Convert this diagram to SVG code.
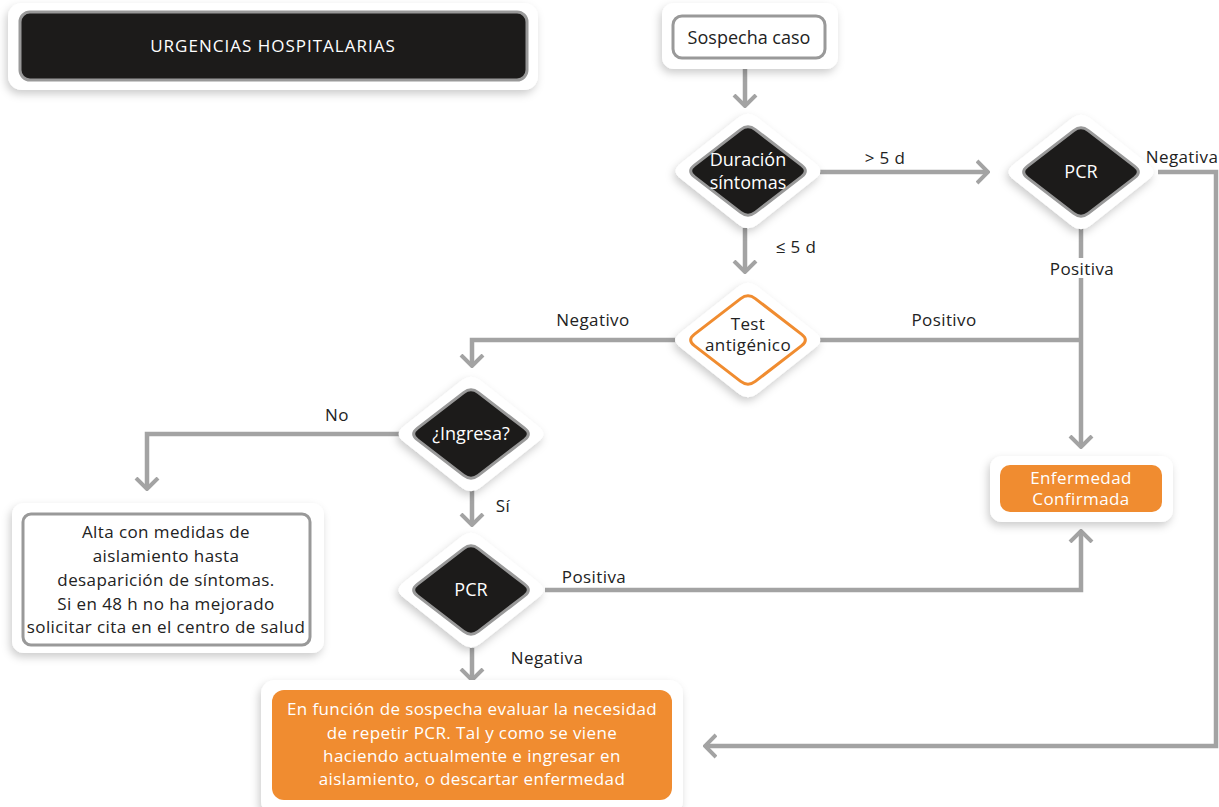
<svg xmlns="http://www.w3.org/2000/svg" width="1219" height="807" viewBox="0 0 1219 807">
<style>
text{font-family:"Open Sans","Liberation Sans",sans-serif;font-size:17px;fill:#222;text-anchor:middle}
.w{fill:#fff}
.lb{letter-spacing:0.4px}
.bt{letter-spacing:0.4px}
.halo{fill:#fff;filter:url(#sh)}
.blk{fill:#1c1b1a;stroke:#999;stroke-width:3}
.box{fill:#fff;stroke:#999;stroke-width:3}
.org{fill:#f08c30}
.con{fill:none;stroke:#a3a3a3;stroke-width:4.5}
.arr{marker-end:url(#chev)}
.lbg{fill:#fff}
</style>
<defs>
<filter id="sh" x="-20%" y="-30%" width="140%" height="160%">
<feDropShadow dx="-2" dy="4" stdDeviation="4" flood-color="#000" flood-opacity="0.2"/>
</filter>
<marker id="chev" markerUnits="userSpaceOnUse" viewBox="0 0 14 26" refX="12" refY="13" markerWidth="14" markerHeight="26" orient="auto">
<path d="M1,2 L12,13 L1,24" fill="none" stroke="#a3a3a3" stroke-width="4"/>
</marker>
<path id="dOut" d="M9.2,-53.7 L67.8,-7.3 Q77,0 67.8,7.3 L9.2,53.7 Q0,61 -9.2,53.7 L-67.8,7.3 Q-77,0 -67.8,-7.3 L-9.2,-53.7 Q0,-61 9.2,-53.7Z"/>
<path id="dIn" d="M7.3,-41.4 L53.7,-5.6 Q61,0 53.7,5.6 L7.3,41.4 Q0,47 -7.3,41.4 L-53.7,5.6 Q-61,0 -53.7,-5.6 L-7.3,-41.4 Q0,-47 7.3,-41.4Z"/>
</defs>
<rect width="1219" height="807" fill="#fff"/>

<g id="connectors">
<path class="con arr" d="M745,60 V106"/>
<path class="con arr" d="M820,172 H988"/>
<path class="con arr" d="M745,228 V272"/>
<path class="con arr" d="M1158,172 H1216 V746 H705"/>
<path class="con arr" d="M1081,228 V447"/>
<path class="con" d="M820,340 H1081"/>
<path class="con arr" d="M675,340 H472 V366"/>
<path class="con arr" d="M400,434 H147 V489"/>
<path class="con arr" d="M472,490 V525"/>
<path class="con arr" d="M545,590 H1081 V531"/>
<path class="con arr" d="M472,648 V680"/>
<text class="lb" x="885" y="164">&gt; 5 d</text>
<text class="lb" x="796" y="253">≤ 5 d</text>
<text class="lb" x="1182" y="163">Negativa</text>
<rect class="lbg" x="1045" y="258" width="74" height="20"/>
<text class="lb" x="1082" y="275">Positiva</text>
<text class="lb" x="944" y="326">Positivo</text>
<text class="lb" x="593" y="326">Negativo</text>
<text class="lb" x="337" y="421">No</text>
<text class="lb" x="503" y="512">Sí</text>
<text class="lb" x="594" y="583">Positiva</text>
<text class="lb" x="547" y="664">Negativa</text>
</g>

<g id="urgencias">
<rect class="halo" x="8" y="3" width="530" height="87" rx="14"/>
<rect class="blk" x="20" y="12" width="507" height="68" rx="10"/>
<text class="w" x="273" y="52" style="font-size:17px;letter-spacing:1px">URGENCIAS HOSPITALARIAS</text>
</g>

<g id="sospecha">
<rect class="halo" x="662" y="3" width="176" height="66" rx="12"/>
<rect class="box" x="673" y="16" width="152" height="42" rx="9"/>
<text x="749" y="44" style="font-size:18px">Sospecha caso</text>
</g>

<g id="duracion">
<use href="#dOut" class="halo" x="748" y="171"/>
<use href="#dIn" class="blk" x="748" y="171"/>
<text class="w" x="748" y="166" style="font-size:18px">Duración</text>
<text class="w" x="748" y="189" style="font-size:18px">síntomas</text>
</g>

<g id="pcr1">
<use href="#dOut" class="halo" x="1081" y="172"/>
<use href="#dIn" class="blk" x="1081" y="172"/>
<text class="w" x="1081" y="178" style="font-size:18px">PCR</text>
</g>

<g id="test">
<use href="#dOut" class="halo" x="748" y="340"/>
<use href="#dIn" x="748" y="340" fill="#fff" stroke="#f08c30" stroke-width="3"/>
<text x="748" y="330" style="font-size:17px;letter-spacing:0.4px">Test</text>
<text x="748" y="351" style="font-size:17px;letter-spacing:0.4px">antigénico</text>
</g>

<g id="ingresa">
<use href="#dOut" class="halo" x="471" y="434"/>
<use href="#dIn" class="blk" x="471" y="434"/>
<text class="w" x="471" y="440" style="font-size:18px">¿Ingresa?</text>
</g>

<g id="pcr2">
<use href="#dOut" class="halo" x="471" y="590"/>
<use href="#dIn" class="blk" x="471" y="590"/>
<text class="w" x="471" y="596" style="font-size:18px">PCR</text>
</g>

<g id="confirmada">
<rect class="halo" x="990" y="456" width="183" height="66" rx="12"/>
<rect class="org" x="1000" y="465" width="162" height="47" rx="10"/>
<text class="w bt" x="1081" y="484">Enfermedad</text>
<text class="w bt" x="1081" y="505">Confirmada</text>
</g>

<g id="alta">
<rect class="halo" x="12" y="503" width="312" height="150" rx="12"/>
<rect class="box" x="23" y="514" width="287" height="131" rx="8"/>
<text class="bt" x="166" y="538">Alta con medidas de</text>
<text class="bt" x="166" y="562">aislamiento hasta</text>
<text class="bt" x="166" y="586">desaparición de síntomas.</text>
<text class="bt" x="166" y="610">Si en 48 h no ha mejorado</text>
<text class="bt" x="166" y="633">solicitar cita en el centro de salud</text>
</g>

<g id="evaluar">
<rect class="halo" x="261" y="680" width="422" height="135" rx="14"/>
<rect class="org" x="272" y="690" width="400" height="110" rx="12"/>
<text class="w bt" x="472" y="715">En función de sospecha evaluar la necesidad</text>
<text class="w bt" x="472" y="739">de repetir PCR. Tal y como se viene</text>
<text class="w bt" x="472" y="762">haciendo actualmente e ingresar en</text>
<text class="w bt" x="472" y="785">aislamiento, o descartar enfermedad</text>
</g>
</svg>
